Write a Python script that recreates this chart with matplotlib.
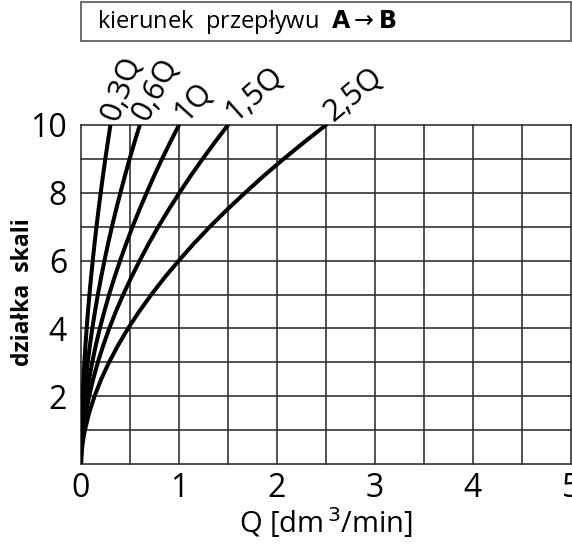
import matplotlib.pyplot as plt
from matplotlib.patches import Rectangle

plt.rcParams['font.family'] = ['Open Sans', 'DejaVu Sans']

# scale division (y) and flow for each curve
scale = [0, 0.25, 0.5, 0.75, 1, 1.5, 2, 2.5, 3, 3.5, 4, 4.5, 5, 5.5, 6, 6.5, 7, 7.5, 8, 8.5, 9, 9.5, 10]
q_03 = [0, 0.0004, 0.0014, 0.0028, 0.0047, 0.0099, 0.0166, 0.0248, 0.0343, 0.0453, 0.0576, 0.0713,
        0.0861, 0.1023, 0.1197, 0.1382, 0.1578, 0.1788, 0.201, 0.224, 0.248, 0.274, 0.3]
q_06 = [0, 0.0008, 0.0028, 0.0056, 0.0095, 0.0197, 0.0331, 0.0495, 0.0686, 0.0906, 0.1153, 0.1426,
        0.1723, 0.2046, 0.2395, 0.2763, 0.3156, 0.3576, 0.402, 0.448, 0.496, 0.547, 0.6]
q_10 = [0, 0.0013, 0.0046, 0.0094, 0.0158, 0.0329, 0.0552, 0.0825, 0.1144, 0.151, 0.192, 0.238,
        0.287, 0.341, 0.399, 0.461, 0.526, 0.596, 0.670, 0.746, 0.827, 0.912, 1.0]
q_15 = [0, 0.002, 0.007, 0.014, 0.024, 0.049, 0.083, 0.124, 0.172, 0.227, 0.288, 0.356,
        0.431, 0.512, 0.599, 0.691, 0.789, 0.894, 1.004, 1.119, 1.241, 1.368, 1.5]
q_25 = [0, 0.003, 0.012, 0.024, 0.04, 0.082, 0.138, 0.206, 0.286, 0.378, 0.48, 0.594,
        0.718, 0.853, 0.998, 1.151, 1.315, 1.49, 1.674, 1.865, 2.068, 2.28, 2.5]
curves = [q_03, q_06, q_10, q_15, q_25]
curve_labels = ["0,3Q", "0,6Q", "1Q", "1,5Q", "2,5Q"]
label_angles = [70, 62, 48, 42, 40]

x_ticks = [0, 1, 2, 3, 4, 5]
y_ticks = [2, 4, 6, 8, 10]

fig = plt.figure(figsize=(5.72, 5.48), dpi=100)
ax = fig.add_axes([81 / 572, 84 / 548, 490 / 572, 339 / 548])

ax.set_xlim(0, 5)
ax.set_ylim(0, 10)

# grid every 0.5 on x, every 1 on y
for i in range(11):
    ax.axvline(i * 0.5, color='#333333', lw=1.2, zorder=1, clip_on=False)
for j in range(11):
    ax.axhline(j, color='#333333', lw=1.2, zorder=1, clip_on=False)

for xs, lab, ang in zip(curves, curve_labels, label_angles):
    ax.plot(xs, scale, color='black', lw=2.9, solid_capstyle='round', zorder=3)
    ax.annotate(lab, (xs[-1], scale[-1]), xytext=(5, 2), textcoords='offset points',
                rotation=ang, rotation_mode='anchor', ha='left', va='baseline',
                fontsize=22, fontweight=500, annotation_clip=False)

for s in ax.spines.values():
    s.set_visible(False)

ax.set_xticks(x_ticks)
ax.set_xticklabels([str(v) for v in x_ticks], fontsize=23, fontweight=500)
ax.set_yticks(y_ticks)
ax.set_yticklabels([str(v) for v in y_ticks], fontsize=23, fontweight=500)
ax.tick_params(length=0, pad=6)
ax.tick_params(axis='y', pad=10)

ax.set_xlabel("Q [dm$^{\\,3}$/min]", fontsize=21, fontweight=500, labelpad=0)
fig.text(23 / 572, 1 - 292 / 548, "działka  skali", rotation=90, fontsize=16.5,
         fontweight='bold', ha='center', va='center')

# direction box at the top
fig.patches.append(Rectangle((81 / 572, 507 / 548), 490 / 572, 39 / 548,
                             transform=fig.transFigure, fill=False,
                             edgecolor='#555555', lw=1.2))
fig.text(97 / 572, 526 / 548, "kierunek  przepływu  $\\mathbf{A} \\rightarrow \\mathbf{B}$",
         fontsize=17, va='center', ha='left')

fig.savefig("out.png", dpi=100)
